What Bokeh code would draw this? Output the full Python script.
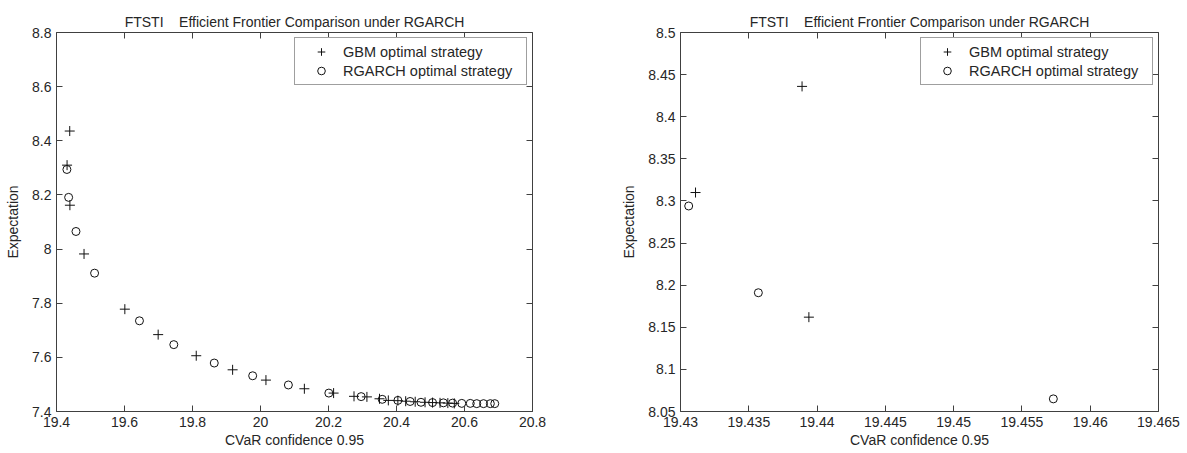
from bokeh.plotting import figure
from bokeh.models import (Range1d, FixedTicker, LinearAxis, CustomJSTickFormatter,
                          Legend, LegendItem, Title)
from bokeh.layouts import row
from bokeh.embed import file_html
from bokeh.resources import INLINE

# ---------------- data ----------------
gbm_cvar = [19.4389, 19.4311, 19.4394, 19.481, 19.601, 19.699, 19.811, 19.918,
            20.016, 20.129, 20.215, 20.275, 20.313, 20.350, 20.376, 20.404,
            20.427, 20.455, 20.484, 20.506, 20.528, 20.551, 20.570]
gbm_exp = [8.436, 8.310, 8.162, 7.982, 7.778, 7.684, 7.606, 7.554,
           7.516, 7.484, 7.468, 7.456, 7.454, 7.447, 7.441, 7.440,
           7.438, 7.436, 7.434, 7.433, 7.432, 7.431, 7.430]
rg_cvar = [19.4306, 19.4357, 19.4573, 19.512, 19.644, 19.745, 19.864, 19.977,
           20.082, 20.201, 20.296, 20.358, 20.404, 20.440, 20.472, 20.506,
           20.538, 20.565, 20.592, 20.617, 20.636, 20.656, 20.676, 20.689]
rg_exp = [8.294, 8.191, 8.065, 7.911, 7.735, 7.647, 7.579, 7.532,
          7.498, 7.468, 7.455, 7.445, 7.441, 7.437, 7.434, 7.433,
          7.432, 7.431, 7.430, 7.430, 7.429, 7.429, 7.429, 7.429]

left_xticks = [19.4, 19.6, 19.8, 20.0, 20.2, 20.4, 20.6, 20.8]
left_yticks = [7.4, 7.6, 7.8, 8.0, 8.2, 8.4, 8.6, 8.8]
right_xticks = [19.43, 19.435, 19.44, 19.445, 19.45, 19.455, 19.46, 19.465]
right_yticks = [8.05, 8.1, 8.15, 8.2, 8.25, 8.3, 8.35, 8.4, 8.45, 8.5]

NB = "\u00a0"
title_text = "FTSTI" + NB * 4 + "Efficient Frontier Comparison under RGARCH"
xlabel = "CVaR confidence 0.95"
ylabel = "Expectation"
gbm_label = "GBM optimal strategy"
rg_label = "RGARCH optimal strategy"

FONT = "Liberation Sans"
TXT = "#262626"
AX = "#404040"
FS = "14px"

fmt_code = "return tick.toFixed(4).replace(/\\.?0+$/, '');"


def make_plot(width, mbl, mbr, xr, yr, xticks, yticks):
    p = figure(width=width, height=450, output_backend="svg", toolbar_location=None,
               x_range=Range1d(*xr), y_range=Range1d(*yr),
               min_border_left=mbl, min_border_right=mbr, min_border_top=32,
               min_border_bottom=0, x_axis_location=None, y_axis_location=None,
               background_fill_color="white", border_fill_color="white")
    p.grid.visible = False
    p.outline_line_color = AX
    p.outline_line_width = 1
    p.title = Title(text=title_text, align="center",
                    text_font=FONT, text_font_size="14px", text_font_style="normal",
                    text_color=TXT, standoff=5)

    for loc, dim in (("below", "x"), ("left", "y"), ("above", "x"), ("right", "y")):
        ticks = xticks if dim == "x" else yticks
        ax = LinearAxis(ticker=FixedTicker(ticks=ticks),
                        formatter=CustomJSTickFormatter(code=fmt_code))
        ax.axis_line_color = None
        ax.major_tick_in = 6
        ax.major_tick_out = 0
        ax.minor_tick_line_color = None
        ax.major_tick_line_color = AX
        ax.major_label_text_font = FONT
        ax.axis_label_text_font = FONT
        ax.axis_label_text_color = TXT
        ax.axis_label_text_font_style = "normal"
        ax.axis_label_text_font_size = FS
        if loc in ("below", "left"):
            ax.major_label_text_color = TXT
            ax.major_label_text_font_size = FS
            ax.major_label_standoff = 5
            ax.axis_label = xlabel if dim == "x" else ylabel
            ax.axis_label_standoff = 2 if dim == "x" else 8
        else:
            ax.major_label_text_color = None
            ax.major_label_text_font_size = "0px"
            ax.major_label_standoff = 0
        p.add_layout(ax, loc)

    r1 = p.scatter(gbm_cvar, gbm_exp, marker="cross", size=10, line_color="#111111",
                   line_width=1)
    r2 = p.scatter(rg_cvar, rg_exp, marker="circle", size=8, line_color="#111111",
                   fill_color=None, line_width=1)

    legend = Legend(items=[LegendItem(label=gbm_label, renderers=[r1]),
                           LegendItem(label=rg_label, renderers=[r2])],
                    location="top_right", margin=5, padding=4, spacing=0,
                    glyph_width=44, glyph_height=19, label_height=19,
                    label_standoff=0, label_width=179,
                    label_text_font=FONT, label_text_font_size="14.5px",
                    label_text_color=TXT, border_line_color=AX, border_line_width=1,
                    background_fill_color="white", background_fill_alpha=1.0)
    p.add_layout(legend, "center")
    return p


p1 = make_plot(600, 56, 68, (19.4, 20.8), (7.4, 8.8), left_xticks, left_yticks)
p2 = make_plot(587, 80, 29, (19.43, 19.465), (8.05, 8.5), right_xticks, right_yticks)

layout = row(p1, p2)
open("out.html", "w").write(file_html(layout, INLINE))
